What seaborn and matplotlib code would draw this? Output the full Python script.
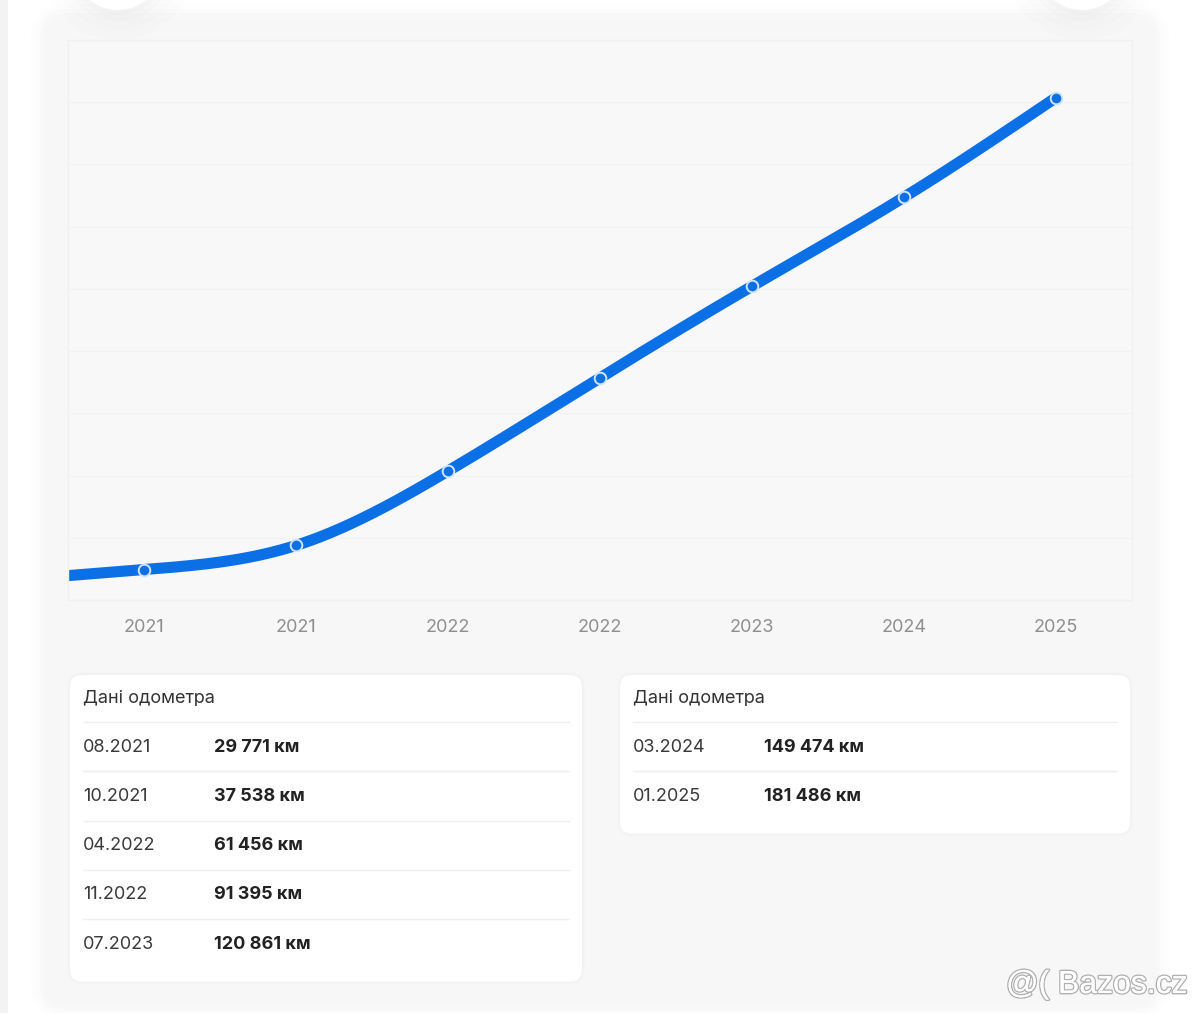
import numpy as np
import matplotlib
matplotlib.use("Agg")
import matplotlib.pyplot as plt
import matplotlib.patheffects as pe
from matplotlib.patches import FancyBboxPatch, Circle
import seaborn as sns

# ----- DATA -----
dates = ['08.2021', '10.2021', '04.2022', '11.2022', '07.2023', '03.2024', '01.2025']
km = [29771, 37538, 61456, 91395, 120861, 149474, 181486]
tick_labels = ['2021', '2021', '2022', '2022', '2023', '2024', '2025']
table_title = 'Дані одометра'

BLUE = '#0b6fe6'
FONT = ['Inter', 'DejaVu Sans']

sns.set_theme(style='white')
plt.rcParams['font.family'] = FONT

W, H = 1200, 1013
fig = plt.figure(figsize=(W / 100, H / 100), dpi=100)
fig.patch.set_facecolor('white')


def spline(x, y, xs):
    # natural cubic spline through the data points, linear past the ends
    n = len(x)
    h = np.diff(x)
    A = np.zeros((n, n))
    r = np.zeros(n)
    A[0, 0] = A[-1, -1] = 1
    for i in range(1, n - 1):
        A[i, i - 1] = h[i - 1]
        A[i, i] = 2 * (h[i - 1] + h[i])
        A[i, i + 1] = h[i]
        r[i] = 3 * ((y[i + 1] - y[i]) / h[i] - (y[i] - y[i - 1]) / h[i - 1])
    c = np.linalg.solve(A, r)
    b = (y[1:] - y[:-1]) / h - h * (2 * c[:-1] + c[1:]) / 3
    d = (c[1:] - c[:-1]) / (3 * h)
    out = np.empty_like(xs)
    for k, t in enumerate(xs):
        if t < x[0]:
            out[k] = y[0] + b[0] * (t - x[0])
            continue
        i = min(np.searchsorted(x, t, side='right') - 1, n - 2)
        dx = t - x[i]
        out[k] = y[i] + b[i] * dx + c[i] * dx ** 2 + d[i] * dx ** 3
    return out


# ----- BACKGROUND LAYER (pixel coordinates) -----
bg = fig.add_axes([0, 0, 1, 1], zorder=0)
bg.set_xlim(0, W)
bg.set_ylim(H, 0)
bg.axis('off')

bg.add_patch(plt.Rectangle((0, 0), 8, H, color='#f3f3f3', lw=0))
for grow, a in [(14, 0.006), (9, 0.008), (5, 0.01)]:
    bg.add_patch(FancyBboxPatch((45 - grow, 18 - grow), 1110 + 2 * grow, 987 + 2 * grow,
                                boxstyle=f'round,pad=0,rounding_size={22 + grow}',
                                fc='black', ec='none', alpha=a))
bg.add_patch(FancyBboxPatch((45, 18), 1110, 987, boxstyle='round,pad=0,rounding_size=22',
                            fc='#f7f7f8', ec='none'))

for cx in (118, 1082):
    for rr, a in [(75, 0.006), (65, 0.008), (56, 0.01), (50, 0.012)]:
        bg.add_patch(Circle((cx, -35), rr, fc='black', ec='none', alpha=a))
    bg.add_patch(Circle((cx, -35), 45, fc='white', ec='none'))


def card(x0, y0, w, rows):
    h = 48 + 49.3 * len(rows) + 12
    for grow, a in [(3, 0.008), (1.5, 0.012)]:
        bg.add_patch(FancyBboxPatch((x0 - grow, y0 - grow), w + 2 * grow, h + 2 * grow,
                                    boxstyle=f'round,pad=0,rounding_size={12 + grow}',
                                    fc='black', ec='none', alpha=a))
    bg.add_patch(FancyBboxPatch((x0, y0), w, h, boxstyle='round,pad=0,rounding_size=12',
                                fc='white', ec='none'))
    bg.text(x0 + 13, y0 + 23, table_title, fontsize=13, color='#333333',
            va='center', ha='left')
    for k, (d, v) in enumerate(rows):
        ly = y0 + 47 + 49.3 * k
        bg.plot([x0 + 13, x0 + w - 13], [ly, ly], color='#efefef', lw=1)
        bg.text(x0 + 13, ly + 25, d, fontsize=13, color='#3a3a3a', va='center', ha='left')
        bg.text(x0 + 144, ly + 25, f'{v:,}'.replace(',', ' ') + ' км', fontsize=13,
                fontweight='bold', color='#222222', va='center', ha='left')


card(70, 675, 512, list(zip(dates[:5], km[:5])))
card(620, 675, 510, list(zip(dates[5:], km[5:])))

wm = bg.text(1097, 985, '@( Bazos.cz', fontsize=23, color='white', ha='center',
             va='center', family=['Liberation Sans', 'DejaVu Sans'])
wm.set_path_effects([pe.withStroke(linewidth=2.0, foreground='#b0b0b0'), pe.Normal()])

# ----- ODOMETER CHART -----
ax = fig.add_axes([68 / W, 1 - 600 / H, (1132 - 68) / W, (600 - 40) / H], zorder=1)
ax.set_facecolor('#f8f8f9')

x = np.arange(len(km), dtype=float)
y = np.array(km, dtype=float)
xs = np.linspace(-0.5, x[-1], 400)
ys = spline(x, y, xs)

sns.lineplot(x=xs, y=ys, ax=ax, color=BLUE, lw=8, solid_capstyle='butt', zorder=2)
ax.plot(x[-1:], y[-1:], 'o', ms=8, color=BLUE, zorder=3)
sns.scatterplot(x=x, y=y, ax=ax, s=70, color=BLUE, edgecolor='#cfe3fb', linewidth=1.4,
                zorder=4)

ax.set_xlim(-0.5, len(km) - 0.5)
ax.set_ylim(20000, 200000)
ax.set_yticks(np.arange(20000, 200001, 20000))
ax.yaxis.grid(True, color='#f3f3f4', lw=1)
ax.set_yticklabels([])
ax.tick_params(axis='y', length=0)
ax.set_xticks(x)
ax.set_xticklabels(tick_labels, fontsize=13, color='#8f8f8f')
ax.tick_params(axis='x', length=0, pad=14)
for s in ax.spines.values():
    s.set_color('#f0f0f1')
    s.set_linewidth(1)

fig.savefig('out.png', dpi=100, facecolor=fig.get_facecolor())
